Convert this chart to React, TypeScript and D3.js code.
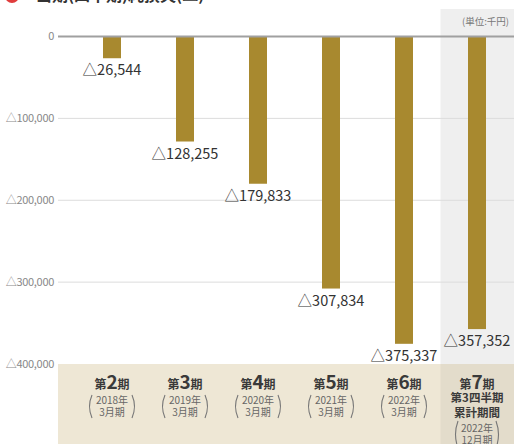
import React from "react";
import * as d3 from "d3";

const periods = ["2", "3", "4", "5", "6", "7"];
const years = ["2018年", "2019年", "2020年", "2021年", "2022年", "2022年"];
const months = ["3月期", "3月期", "3月期", "3月期", "3月期", "12月期"];
const values = [26544, 128255, 179833, 307834, 375337, 357352];
const ticks = [0, 100000, 200000, 300000, 400000];

const W = 514;
const H = 444;
const FONT = "'Noto Sans CJK JP', 'Noto Sans', sans-serif";
const BAR = "#a8892f";

export default function App() {
  const x = d3.scaleBand<string>().domain(periods).range([75.5, 513.5]);
  const y = d3.scaleLinear().domain([0, 400000]).range([36.5, 364]);
  const fmt = (v: number) => (v === 0 ? "0" : "△" + d3.format(",")(v));
  const bw = 18;
  const last = periods[periods.length - 1];
  const lastX = x(last)!;

  const paren = (cx: number, y0: number, y1: number, half: number) => {
    const l = cx - half;
    const r = cx + half;
    return (
      <g stroke="#777" strokeWidth={1.1} fill="none">
        <path d={`M${l + 3},${y0} Q${l - 2},${(y0 + y1) / 2} ${l + 3},${y1}`} />
        <path d={`M${r - 3},${y0} Q${r + 2},${(y0 + y1) / 2} ${r - 3},${y1}`} />
      </g>
    );
  };

  return (
    <div style={{ position: "absolute", left: 0, top: 0 }}>
      <svg width={W} height={H} style={{ display: "block", fontFamily: FONT }}>
        <rect x={0} y={0} width={W} height={H} fill="#fff" />
        {/* title (cropped) */}
        <circle cx={12} cy={-4} r={7} fill="#e03c3c" />
        <text x={36} y={1} fontSize={16} fontWeight="bold" fill="#333">
          当期(四半期)純損失(△)
        </text>
        {/* highlighted column */}
        <rect x={lastX} y={9} width={W - lastX} height={y(400000) - 9} fill="#efefef" />
        {/* bottom band */}
        <rect x={58} y={y(400000)} width={W - 58} height={H - y(400000)} fill="#eee7d5" />
        <rect x={lastX} y={y(400000)} width={W - lastX} height={H - y(400000)} fill="#e3dccb" />
        {/* grid */}
        {ticks.slice(1, 4).map((t) => (
          <line key={t} x1={58} x2={W} y1={y(t)} y2={y(t)} stroke="#dcdcdc" strokeWidth={1} />
        ))}
        {ticks.map((t) => (
          <text key={"l" + t} x={54} y={y(t)} dy="0.35em" textAnchor="end" fontSize={11} fill="#888" letterSpacing={-0.3}>
            {fmt(t)}
          </text>
        ))}
        <text x={509} y={25} textAnchor="end" fontSize={9.5} fill="#777">
          (単位:千円)
        </text>
        {/* bars */}
        {periods.map((p, i) => {
          const cx = x(p)! + x.bandwidth() / 2;
          return (
            <g key={p}>
              <rect x={cx - bw / 2} y={y(0)} width={bw} height={y(values[i]) - y(0)} fill={BAR} />
              <text x={cx} y={y(values[i]) + 17} textAnchor="middle" fontSize={14.5} fill="#333">
                {fmt(values[i])}
              </text>
            </g>
          );
        })}
        {/* zero line */}
        <line x1={58} x2={W} y1={y(0)} y2={y(0)} stroke="#a0a0a0" strokeWidth={2.2} />
        {/* category labels */}
        {periods.map((p, i) => {
          const cx = x(p)! + x.bandwidth() / 2;
          const isLast = i === periods.length - 1;
          return (
            <g key={"c" + p} fill="#3a3a3a" fontWeight="bold">
              <text x={cx} y={388.5} textAnchor="middle">
                <tspan fontSize={12}>第</tspan>
                <tspan fontSize={19}>{p}</tspan>
                <tspan fontSize={12}>期</tspan>
              </text>
              {isLast ? (
                <g>
                  <text x={cx} y={401.5} textAnchor="middle" fontSize={11.5}>第3四半期</text>
                  <text x={cx} y={417} textAnchor="middle" fontSize={11.5}>累計期間</text>
                  <text x={cx} y={432} textAnchor="middle" fontSize={10} fontWeight="normal" fill="#666">{years[i]}</text>
                  <text x={cx} y={444} textAnchor="middle" fontSize={10} fontWeight="normal" fill="#666">{months[i]}</text>
                  {paren(cx, 421, 448, 22)}
                </g>
              ) : (
                <g>
                  <text x={cx} y={404} textAnchor="middle" fontSize={10} fontWeight="normal" fill="#666">{years[i]}</text>
                  <text x={cx} y={415.5} textAnchor="middle" fontSize={10} fontWeight="normal" fill="#666">{months[i]}</text>
                  {paren(cx, 395, 418, 23)}
                </g>
              )}
            </g>
          );
        })}
      </svg>
    </div>
  );
}
